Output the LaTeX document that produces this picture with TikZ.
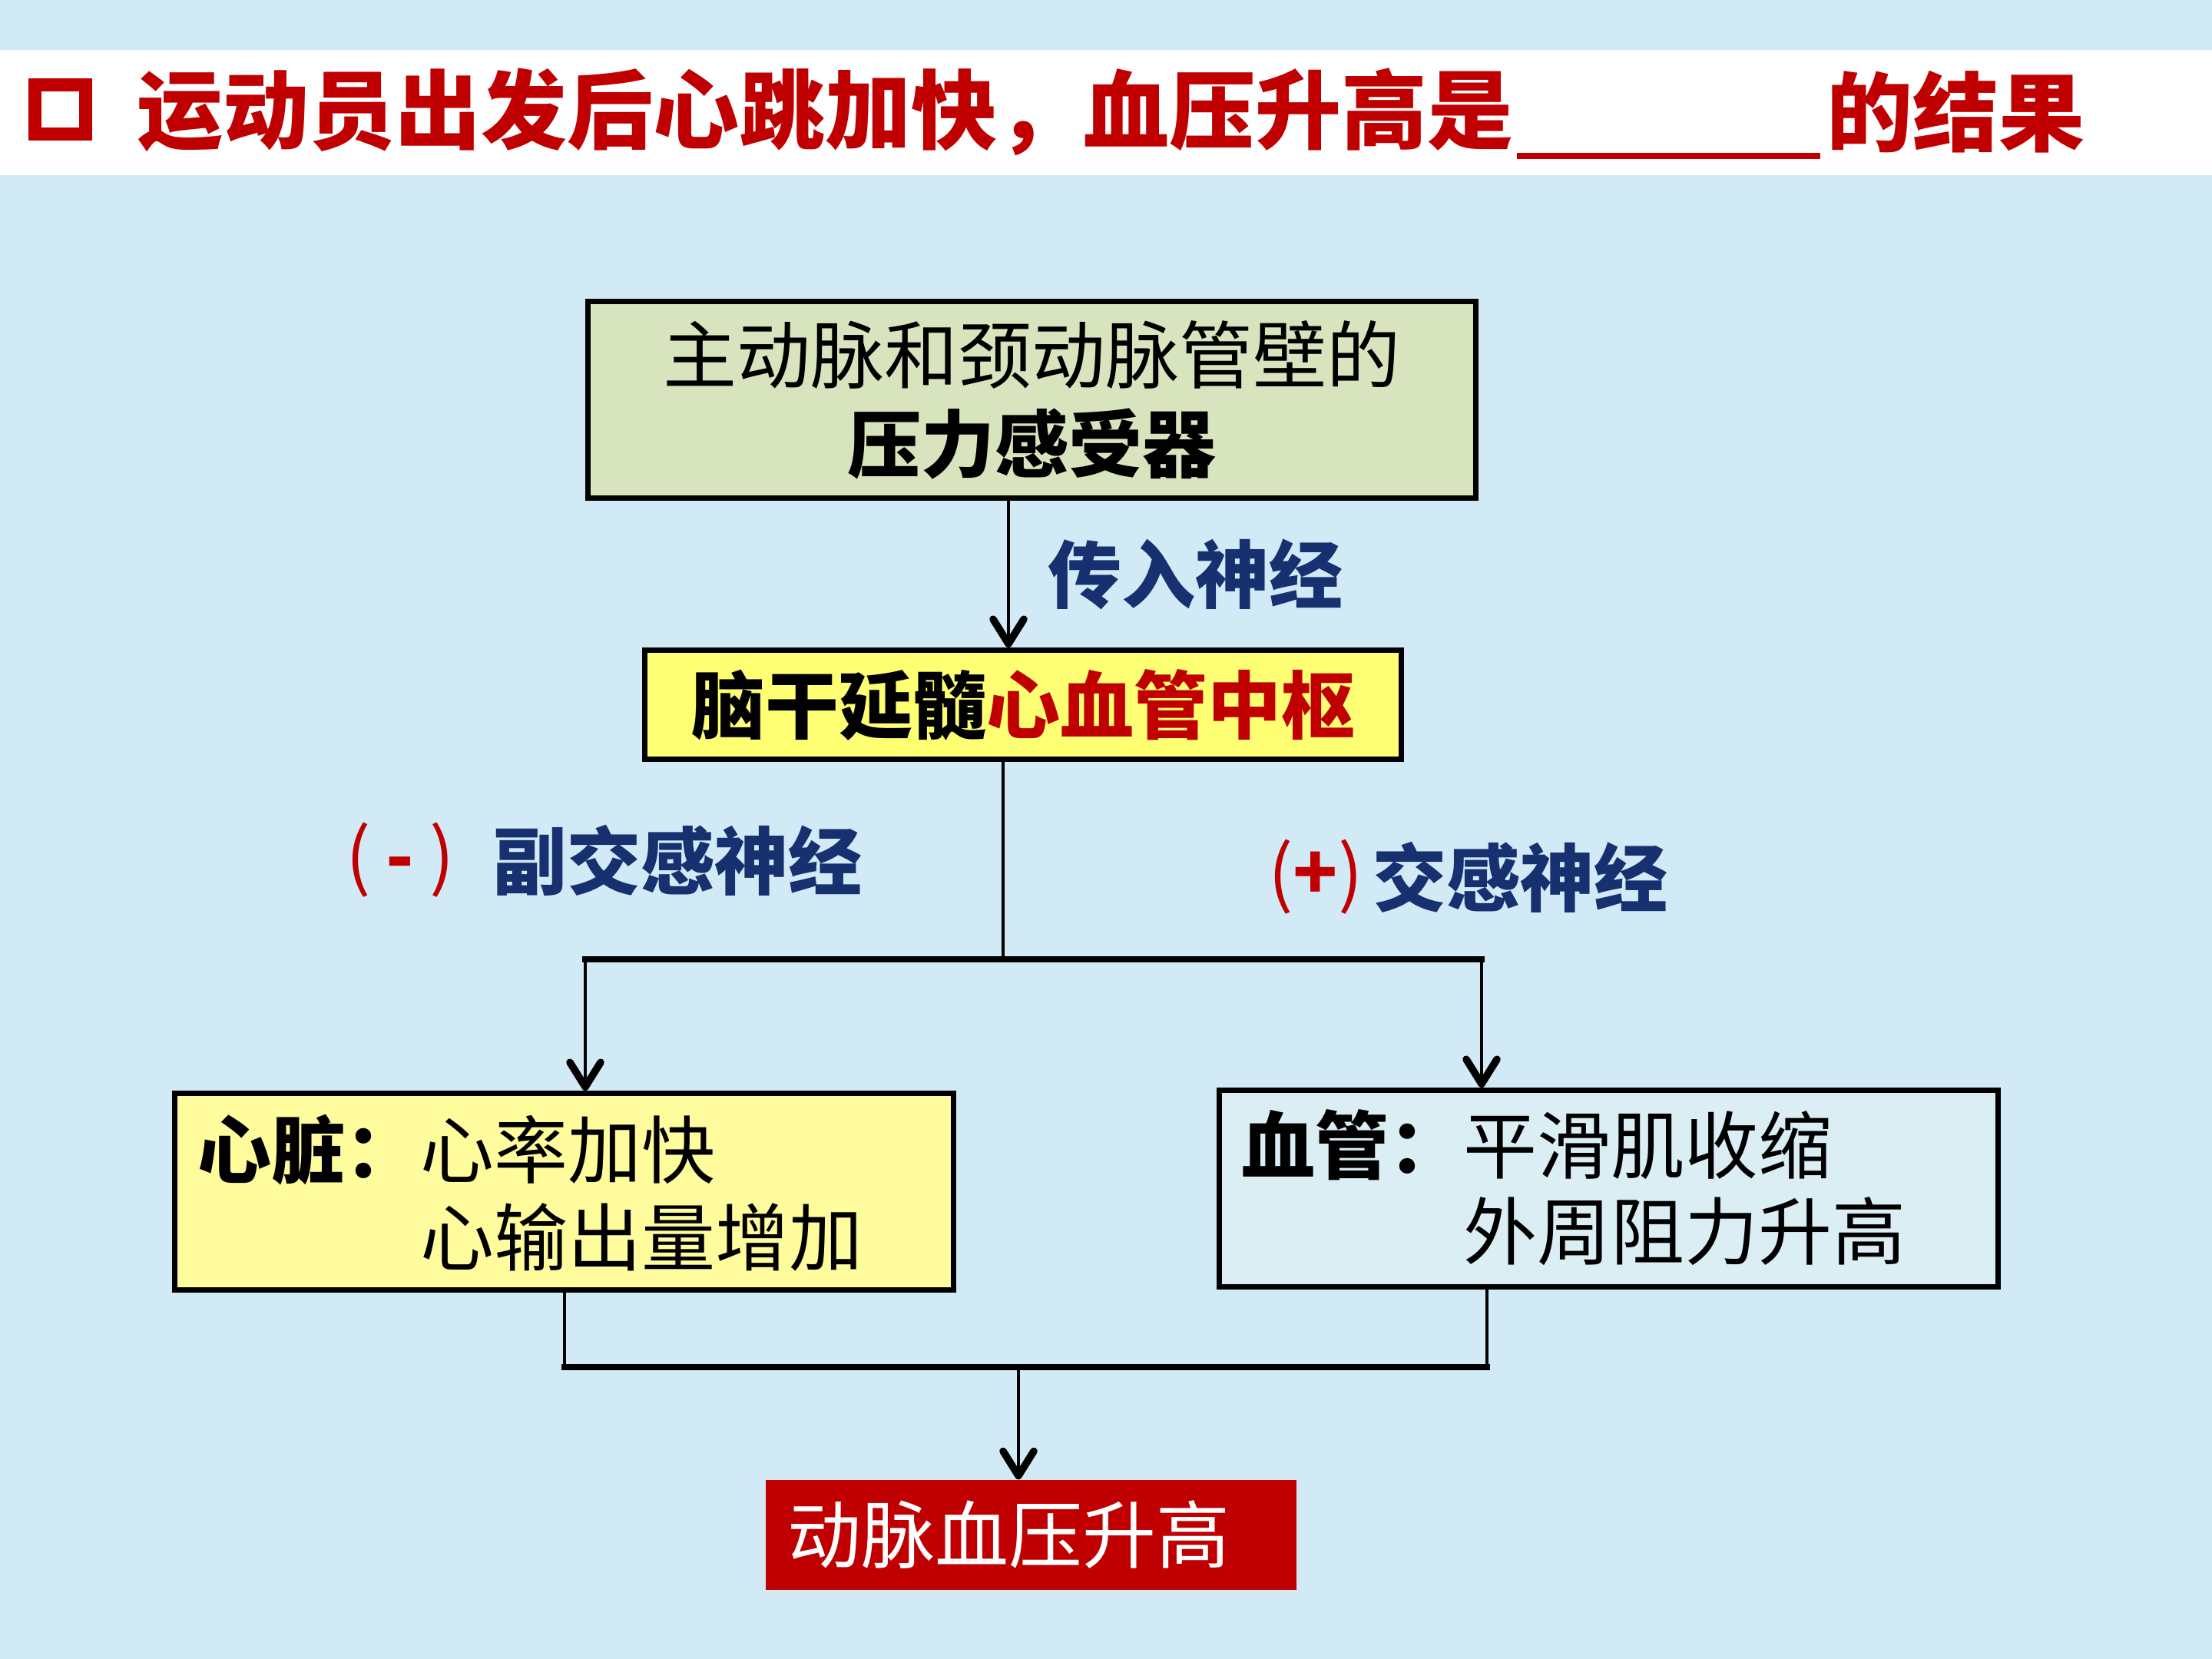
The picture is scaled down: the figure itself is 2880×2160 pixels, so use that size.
\documentclass[tikz,border=0pt]{standalone}
\usepackage{fontspec}
\setmainfont{Noto Sans CJK SC}
\usetikzlibrary{arrows.meta}
\definecolor{bgblue}{RGB}{210,234,246}
\definecolor{olivebox}{RGB}{215,228,189}
\definecolor{yelbox}{RGB}{255,255,115}
\definecolor{paleyel}{RGB}{255,252,158}
\definecolor{paleblue}{RGB}{218,238,243}
\definecolor{darkred}{RGB}{192,0,0}
\definecolor{navy}{RGB}{22,48,112}
\tikzset{
  boxstyle/.style={draw=black, line width=1.75pt, inner sep=0pt},
  txt/.style={inner sep=0pt, font=\fontsize{24}{29}\selectfont},
  btxt/.style={inner sep=0pt, font=\fontsize{24}{29}\selectfont\bfseries},
  nerve/.style={inner sep=0pt, font=\fontsize{24}{29}\selectfont\bfseries, text=navy},
  arr/.style={line width=1pt, -{Straight Barb[length=8pt,width=10pt,line width=2.4pt, round]}},
  vline/.style={line width=1.2pt},
  hline/.style={line width=2pt, line cap=rect},
}
\begin{document}
\begin{tikzpicture}[x=0.25pt,y=-0.25pt]
\useasboundingbox (0,0) rectangle (2880,2160);
\fill[bgblue] (0,0) rectangle (2880,2160);
% title band
\fill[white] (0,65) rectangle (2880,228);
\draw[darkred, line width=4.4pt] (45.5,110.5) rectangle (111.5,174.5);
\node[anchor=west, inner sep=0pt, text=darkred, font=\fontsize{28}{30}\selectfont\bfseries] (title) at (178,146) {运动员出发后心跳加快，血压升高是};
\coordinate (ulA) at (1975,203);
\coordinate (ulB) at (2370,203);
\draw[darkred, line width=1.8pt] (ulA) -- (ulB);
\node[anchor=west, inner sep=0pt, text=darkred, font=\fontsize{28}{30}\selectfont\bfseries] (title2) at (2378,146) {的结果};

% boxes
\node[boxstyle, fill=olivebox, minimum width=289pt, minimum height=64pt, align=center,
      font=\fontsize{24}{29}\selectfont] (top) at (1343.5,520.5)
      {主动脉和颈动脉管壁的\\{\bfseries 压力感受器}};
\node[boxstyle, fill=yelbox, minimum width=246.25pt, minimum height=35.5pt,
      font=\fontsize{24}{29}\selectfont\bfseries] (mid) at (1332,917.5)
      {脑干延髓\textcolor{darkred}{心血管中枢}};
\node[boxstyle, fill=paleyel, minimum width=253.5pt, minimum height=64pt] (left) at (734.5,1551.5) {};
\node[boxstyle, fill=paleblue, minimum width=253.5pt, minimum height=64pt] (right) at (2094,1547.5) {};
\node[fill=darkred, inner sep=0pt, minimum width=172.75pt, minimum height=35.75pt] (bottom) at (1342.5,1998.5) {};

% box texts
\node[btxt, anchor=west] (lh) at (257,1497) {心脏：};
\node[txt, anchor=west] (l1) at (547,1497) {心率加快};
\node[txt, anchor=west] (l2) at (547,1611) {心输出量增加};
\node[btxt, anchor=west] (rh) at (1616,1491) {血管：};
\node[txt, anchor=west] (r1) at (1905,1491) {平滑肌收缩};
\node[txt, anchor=west] (r2) at (1905,1603) {外周阻力升高};
\node[txt, text=white] (btext) at (1313,1998) {动脉血压升高};

% labels
\node[nerve] (aff) at (1556,748) {传入神经};
\node[inner sep=0pt, text=darkred, font=\fontsize{24}{29}\selectfont] (minus) at (521,1120) {(\hspace{5pt}\textbf{-}\hspace{5pt})};
\node[nerve] (para) at (882,1120) {副交感神经};
\node[inner sep=0pt, text=darkred, font=\fontsize{24}{29}\selectfont] (plus) at (1713,1142) {(\textbf{+})};
\node[nerve] (symp) at (1979,1142) {交感神经};

% connectors
\coordinate (a1) at (1313,700);
\draw[arr] (top.south -| a1) -- (mid.north -| a1);
\coordinate (j1) at (1306,1249);
\coordinate (jl) at (762,1249);
\coordinate (jr) at (1929,1249);
\draw[vline] (mid.south -| j1) -- (j1);
\draw[hline] (jl) -- (jr);
\draw[arr] (jl) -- (left.north -| jl);
\draw[arr] (jr) -- (right.north -| jr);
\coordinate (jbl) at (735,1780);
\coordinate (jbr) at (1936,1780);
\coordinate (jb) at (1326,1780);
\draw[vline] (left.south -| jbl) -- (jbl);
\draw[vline] (right.south -| jbr) -- (jbr);
\draw[hline] (jbl) -- (jbr);
\draw[arr] (jb) -- (bottom.north -| jb);
\end{tikzpicture}
\end{document}
